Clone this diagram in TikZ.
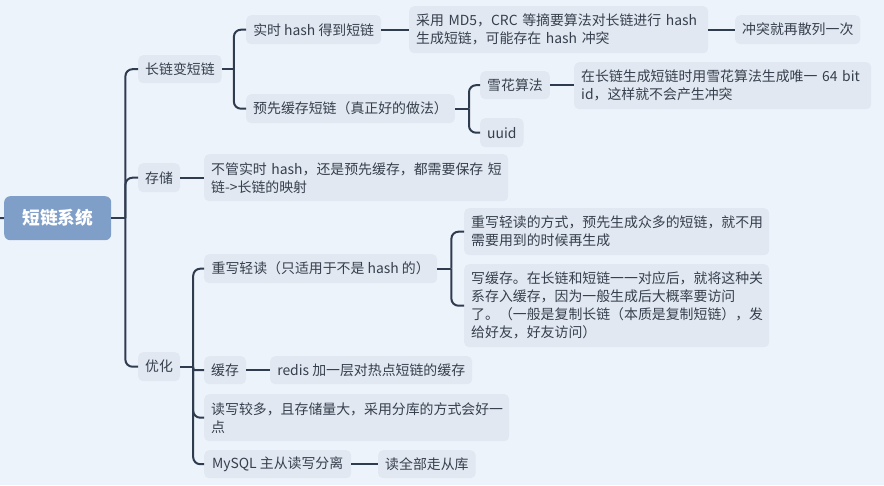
\documentclass[tikz,border=0pt]{standalone}
\usepackage{fontspec}
\setmainfont{Noto Sans CJK SC}
\definecolor{bgc}{HTML}{EDF3FA}
\definecolor{boxc}{HTML}{E1E8F1}
\definecolor{linec}{HTML}{2F3C50}
\definecolor{rootc}{HTML}{809FC8}
\definecolor{txt}{HTML}{363F4D}
\begin{document}
\begin{tikzpicture}[x=1pt,y=-1pt,
  box/.style={fill=boxc, rounded corners=5pt, inner xsep=7pt, inner ysep=0pt,
    align=left, anchor=north west, text=txt, font=\fontsize{13.9}{18}\selectfont},
  link/.style={draw=linec, line width=2pt, rounded corners=7pt}]
\fill[bgc] (0,0) rectangle (884,485);
\useasboundingbox (0,0) rectangle (884,485);

% root
\node[box, fill=rootc, text=white, align=center, rounded corners=6pt,
  minimum width=107, minimum height=44,
  font=\fontsize{17.7}{20}\selectfont\bfseries] (root) at (4,196) {短链系统};

% level 1
\node[box, minimum width=82, minimum height=28] (A) at (138,55) {长链变短链};
\node[box, minimum width=40, minimum height=29] (B) at (138,163) {存储};
\node[box, minimum width=40, minimum height=29] (C) at (138,352) {优化};

% branch A
\node[box, minimum width=135, minimum height=29] (A1) at (246,15) {实时 hash 得到短链};
\node[box, minimum width=207, minimum height=29] (A2) at (246,94) {预先缓存短链（真正好的做法）};
\node[box, minimum width=299, minimum height=47, text width=285] (A1a) at (409,6)
  {\mbox{采用 MD5，CRC 等摘要算法对长链进行 hash}\\\mbox{生成短链，可能存在 hash 冲突}};
\node[box, minimum width=123, minimum height=29] (A1b) at (735,15) {冲突就再散列一次};
\node[box, minimum width=68, minimum height=28] (A2a) at (480,71) {雪花算法};
\node[box, minimum width=42, minimum height=29] (A2b) at (480,118) {uuid};
\node[box, minimum width=297, minimum height=47, text width=283] (A2a1) at (574,62)
  {\mbox{在长链生成短链时用雪花算法生成唯一 64 bit}\\\mbox{id，这样就不会产生冲突}};

% branch B
\node[box, minimum width=304, minimum height=47, text width=290] (B1) at (204,154)
  {\mbox{不管实时 hash，还是预先缓存，都需要保存 短}\\\mbox{链->长链的映射}};

% branch C
\node[box, minimum width=233, minimum height=29] (C1) at (204,254) {重写轻读（只适用于不是 hash 的）};
\node[box, minimum width=305, minimum height=47, text width=291] (C1a) at (464,208)
  {\mbox{重写轻读的方式，预先生成众多的短链，就不用}\\\mbox{需要用到的时候再生成}};
\node[box, minimum width=305, minimum height=83, text width=291] (C1b) at (464,264)
  {\mbox{写缓存。在长链和短链一一对应后，就将这种关}\\\mbox{系存入缓存，因为一般生成后大概率要访问}\\\mbox{了。（一般是复制长链（本质是复制短链），发}\\\mbox{给好友，好友访问）}};
\node[box, minimum width=39, minimum height=28] (C2) at (204,356) {缓存};
\node[box, minimum width=202, minimum height=28] (C2a) at (270,356) {redis 加一层对热点短链的缓存};
\node[box, minimum width=305, minimum height=47, text width=291] (C3) at (204,394)
  {\mbox{读写较多，且存储量大，采用分库的方式会好一}\\\mbox{点}};
\node[box, minimum width=147, minimum height=28] (C4) at (204,450) {MySQL 主从读写分离};
\node[box, minimum width=95, minimum height=28] (C4a) at (378,450) {读全部走从库};

% connectors
\coordinate (stub) at (0,218);
\draw[link] (stub) -- (root.west);

\coordinate (j0) at ([xshift=14pt]root.east);
\draw[link] (root.east) -- (j0);
\draw[link] (j0) |- (A.west);
\draw[link] (j0) |- (B.west);
\draw[link] (j0) |- (C.west);

\coordinate (jA) at ([xshift=12pt]A.east);
\draw[link] (A.east) -- (jA);
\draw[link] (jA) |- (A1.west);
\draw[link] (jA) |- (A2.west);
\draw[link] (A1.east) -- (A1.east -| A1a.west);
\draw[link] (A1a.east) -- (A1a.east -| A1b.west);

\coordinate (jA2) at ([xshift=14pt]A2.east);
\draw[link] (A2.east) -- (jA2);
\draw[link] (jA2) |- (A2a.west);
\draw[link] (jA2) |- (A2b.west);
\draw[link] (A2a.east) -- (A2a.east -| A2a1.west);

\draw[link] (B.east) -- (B.east -| B1.west);

\coordinate (jC) at ([xshift=13pt]C.east);
\draw[link] (C.east) -- (jC);
\draw[link] (jC) |- (C1.west);
\draw[link, rounded corners=1.5pt] (jC) |- (C2.west);
\draw[link] (jC) |- (C3.west);
\draw[link] (jC) |- (C4.west);

\coordinate (jC1) at ([xshift=14pt]C1.east);
\draw[link] (C1.east) -- (jC1);
\draw[link] (jC1) |- (C1a.west);
\draw[link] (jC1) |- (C1b.west);

\draw[link] (C2.east) -- (C2a.west);
\draw[link] (C4.east) -- (C4a.west);
\end{tikzpicture}
\end{document}
